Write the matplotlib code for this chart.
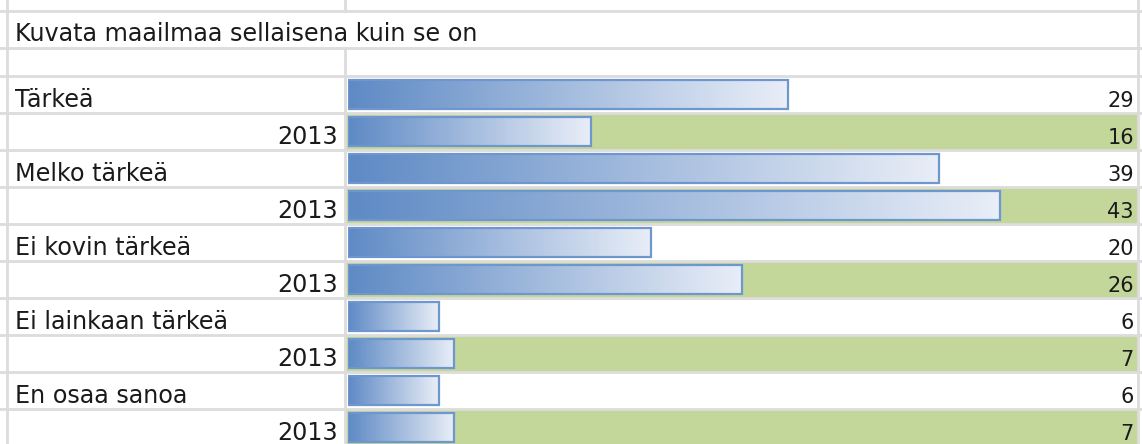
import matplotlib.pyplot as plt
import numpy as np
from matplotlib.colors import LinearSegmentedColormap

title = "Kuvata maailmaa sellaisena kuin se on"
categories = ["Tärkeä", "Melko tärkeä", "Ei kovin tärkeä", "Ei lainkaan tärkeä", "En osaa sanoa"]
year_label = "2013"
values_now = [29, 39, 20, 6, 6]
values_2013 = [16, 43, 26, 7, 7]

W, H = 1142, 444
fig = plt.figure(figsize=(W / 100, H / 100), dpi=100)

# background sheet in pixel coordinates
bg = fig.add_axes([0, 0, 1, 1])
bg.set_xlim(0, W)
bg.set_ylim(H, 0)
bg.axis("off")

grid_c = "#dcdcdc"
green = "#c4d79b"
row_top = 76
row_h = 37
col_x = 345
right_x = 1138
n_rows = 2 * len(categories)

# green fill behind the 2013 value cells
for i in range(n_rows):
    if i % 2 == 1:
        y0 = row_top + i * row_h
        bg.fill_between([col_x, right_x], y0, y0 + row_h, color=green, lw=0, zorder=0)

# horizontal cell borders
for y in [11, 48] + [row_top + i * row_h for i in range(n_rows + 1)]:
    bg.plot([0, W], [y, y], color=grid_c, lw=2.0, zorder=1)
# vertical cell borders
bg.plot([7, 7], [0, H], color=grid_c, lw=2.0, zorder=1)
bg.plot([right_x, right_x], [0, H], color=grid_c, lw=2.0, zorder=1)
bg.plot([col_x, col_x], [0, 11], color=grid_c, lw=2.0, zorder=1)
bg.plot([col_x, col_x], [48, H], color=grid_c, lw=2.0, zorder=1)

font = dict(family="DejaVu Sans", fontsize=17.2, color="#1a1a1a")
numfont = dict(family="DejaVu Sans", fontsize=15, color="#1a1a1a")
bg.text(15, 41, title, ha="left", va="baseline", **font)

rows = []
for cat, v, v13 in zip(categories, values_now, values_2013):
    rows.append((cat, v))
    rows.append((year_label, v13))

for i, (lab, v) in enumerate(rows):
    base = row_top + (i + 1) * row_h - 6
    if i % 2 == 0:
        bg.text(15, base, lab, ha="left", va="baseline", **font)
    else:
        bg.text(338, base, lab, ha="right", va="baseline", **font)
    bg.text(1134, base, str(v), ha="right", va="baseline", **numfont)

# data bars: value 0 at x=348 px, 15.16 px per unit
px_per_unit = 15.16
x0_px = 348
ax = fig.add_axes([x0_px / W, 1 - (row_top + n_rows * row_h) / H,
                   (right_x - x0_px) / W, n_rows * row_h / H])
ax.set_xlim(0, (right_x - x0_px) / px_per_unit)
ax.set_ylim(n_rows, 0)
ax.axis("off")
ax.patch.set_alpha(0)

cmap = LinearSegmentedColormap.from_list("bar", ["#5e8ac5", "#a4bcde", "#e9eef7"])
grad = np.linspace(0, 1, 256).reshape(1, -1)
vals = [v for _, v in rows]
ypos = np.arange(n_rows) + 0.5
bars = ax.barh(ypos, vals, height=0.76, facecolor="none",
               edgecolor="#6f97cf", lw=1.6, zorder=3)
for b in bars:
    x, y, w, h = b.get_x(), b.get_y(), b.get_width(), b.get_height()
    im = ax.imshow(grad, cmap=cmap, aspect="auto", extent=(x, x + w, y + h, y),
                   interpolation="bilinear", zorder=2)
    im.set_clip_path(b)

fig.savefig("out.png", dpi=100)
